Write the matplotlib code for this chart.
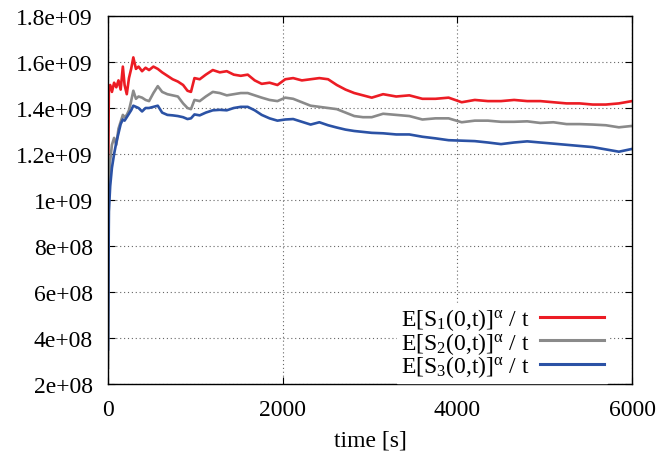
import matplotlib
matplotlib.use("Agg")
import matplotlib.pyplot as plt

t = [0, 10, 25, 45, 70, 95, 120, 145, 170, 190, 215, 240, 265, 290, 320, 350, 390, 430, 470, 520,
     570, 620, 680, 740, 800, 860, 910, 950, 990, 1050, 1120, 1200, 1280, 1360, 1440, 1520, 1600,
     1680, 1760, 1850, 1940, 2030, 2120, 2220, 2320, 2420, 2520, 2620, 2720, 2820, 2920, 3020,
     3150, 3300, 3450, 3600, 3750, 3900, 4050, 4200, 4350, 4500, 4650, 4800, 4950, 5100, 5250,
     5400, 5550, 5700, 5850, 6000]

s1 = [1.05, 1.49, 1.50, 1.47, 1.51, 1.49, 1.52, 1.48, 1.58, 1.50, 1.46, 1.53, 1.57, 1.62, 1.57,
      1.58, 1.56, 1.575, 1.565, 1.58, 1.57, 1.555, 1.54, 1.525, 1.515, 1.50, 1.475, 1.47, 1.53,
      1.525, 1.545, 1.565, 1.555, 1.56, 1.545, 1.54, 1.545, 1.52, 1.505, 1.51, 1.50, 1.525, 1.53,
      1.52, 1.525, 1.53, 1.525, 1.50, 1.48, 1.465, 1.455, 1.445, 1.46, 1.45, 1.455, 1.44, 1.44,
      1.445, 1.425, 1.435, 1.43, 1.43, 1.435, 1.43, 1.43, 1.425, 1.42, 1.42, 1.415, 1.415, 1.42,
      1.43]

s2 = [0.27, 1.05, 1.17, 1.24, 1.27, 1.24, 1.31, 1.34, 1.37, 1.36, 1.37, 1.39, 1.43, 1.475, 1.44,
      1.45, 1.445, 1.435, 1.43, 1.465, 1.495, 1.47, 1.46, 1.455, 1.45, 1.42, 1.40, 1.395, 1.435,
      1.43, 1.45, 1.47, 1.465, 1.455, 1.46, 1.465, 1.465, 1.455, 1.445, 1.435, 1.43, 1.445, 1.44,
      1.425, 1.41, 1.405, 1.40, 1.395, 1.38, 1.365, 1.36, 1.36, 1.375, 1.37, 1.365, 1.35, 1.355,
      1.355, 1.338, 1.345, 1.345, 1.34, 1.34, 1.342, 1.335, 1.338, 1.33, 1.33, 1.328, 1.325,
      1.316, 1.322]

s3 = [0.35, 0.95, 1.06, 1.14, 1.20, 1.25, 1.29, 1.33, 1.35, 1.345, 1.36, 1.375, 1.39, 1.41, 1.405,
      1.40, 1.385, 1.40, 1.40, 1.405, 1.41, 1.38, 1.37, 1.368, 1.365, 1.36, 1.352, 1.355, 1.372,
      1.368, 1.38, 1.39, 1.392, 1.39, 1.40, 1.405, 1.405, 1.39, 1.37, 1.355, 1.345, 1.35, 1.352,
      1.34, 1.328, 1.338, 1.325, 1.315, 1.306, 1.30, 1.296, 1.292, 1.29, 1.285, 1.285, 1.275,
      1.268, 1.26, 1.258, 1.256, 1.25, 1.243, 1.25, 1.255, 1.25, 1.245, 1.24, 1.235, 1.23, 1.22,
      1.21, 1.222]

labels = [r"E[S$_1$(0,t)]$^\alpha$ / t", r"E[S$_2$(0,t)]$^\alpha$ / t", r"E[S$_3$(0,t)]$^\alpha$ / t"]
colors = ["#ec1c24", "#8a8a8a", "#2b52a5"]
yticks = [2e8, 4e8, 6e8, 8e8, 1e9, 1.2e9, 1.4e9, 1.6e9, 1.8e9]
ytick_labels = ["2e+08", "4e+08", "6e+08", "8e+08", "1e+09", "1.2e+09", "1.4e+09", "1.6e+09", "1.8e+09"]
xticks = [0, 2000, 4000, 6000]

plt.rcParams["font.family"] = ["Liberation Serif", "DejaVu Serif"]
plt.rcParams["mathtext.fontset"] = "custom"
plt.rcParams["mathtext.rm"] = "Liberation Serif"
plt.rcParams["mathtext.it"] = "Liberation Serif:italic"
plt.rcParams["mathtext.default"] = "rm"

FS = 17

fig = plt.figure(figsize=(6.63, 4.64), dpi=100)
ax = fig.add_axes([108 / 663, 1 - 385 / 464, (632 - 108) / 663, (385 - 17) / 464])

for vals, lab, col in zip([s1, s2, s3], labels, colors):
    ax.plot(t, [v * 1e9 for v in vals], color=col, lw=1.9, label=lab)

ax.set_xlim(0, 6000)
ax.set_ylim(2e8, 1.8e9)
ax.set_xticks(xticks)
ax.set_yticks(yticks)
ax.set_yticklabels(ytick_labels)
ax.tick_params(direction="in", top=True, right=True, labelsize=FS, length=5)
ax.tick_params(axis="y", pad=11)
ax.tick_params(axis="x", pad=11)
ax.grid(True, color="#666666", linestyle=(0, (1, 2.5)), lw=0.8)
ax.set_axisbelow(True)
ax.set_xlabel("time [s]", fontsize=FS, labelpad=7)
for sp in ax.spines.values():
    sp.set_linewidth(1.0)

leg = ax.legend(loc="lower right", markerfirst=False, frameon=True, fontsize=FS,
                handlelength=2.7, handletextpad=0.45, labelspacing=-0.1,
                borderaxespad=0.05, borderpad=0.15, fancybox=False, edgecolor="white",
                framealpha=1, bbox_to_anchor=(0.955, 0.0))
for line in leg.get_lines():
    line.set_linewidth(2.2)

fig.savefig("out.png", dpi=100)
